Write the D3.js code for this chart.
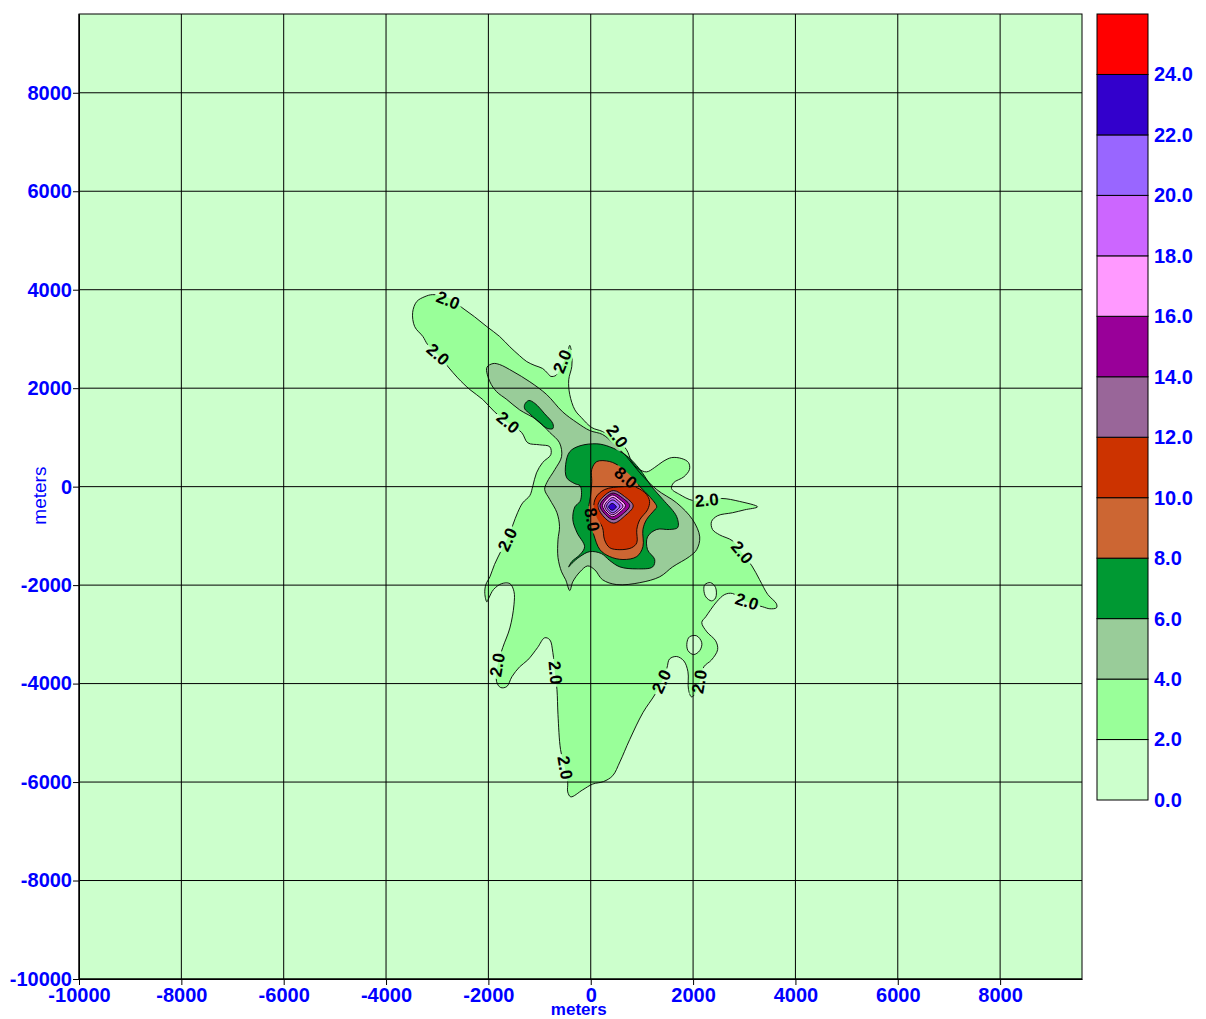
<!DOCTYPE html>
<html>
<head>
<meta charset="utf-8">
<script src="https://cdn.jsdelivr.net/npm/d3@7"></script>
<style>
    body { margin: 0; background: #fff; }
    text { font-family: "Liberation Sans", Arial, sans-serif; }
</style>
</head>
<body>
<svg id="drawing_region_contour"></svg>
<script>
// contour levels (lower bound of each band) and fill colours
const levels = [0, 2, 4, 6, 8, 10, 12, 14, 16, 18, 20, 22, 24];
const levelColors = ['#ccffcc', '#99ff99', '#99cc99', '#009933', '#cc6633', '#cc3300',
    '#996699', '#990099', '#ff99ff', '#cc66ff', '#9966ff', '#3300cc', '#ff0000'];
const levelMax = 26;

const xTicks = [-10000, -8000, -6000, -4000, -2000, 0, 2000, 4000, 6000, 8000];
const yTicks = [-10000, -8000, -6000, -4000, -2000, 0, 2000, 4000, 6000, 8000];
const xDomain = [-10000, 9600];
const yDomain = [-10000, 9600];

// contour polygons, metres [x, y]
const contour2 = [[-3480,3540],[-3400,3760],[-3240,3860],[-3090,3900],[-2790,3840],[-2520,3640],[-2270,3450],
    [-2030,3250],[-1780,3050],[-1580,2840],[-1390,2660],[-1250,2540],[-1090,2460],[-940,2400],[-840,2300],
    [-780,2240],[-680,2260],[-610,2380],[-510,2580],[-450,2740],[-410,2870],[-370,2680],[-370,2440],[-430,2170],
    [-410,1870],[-310,1560],[-180,1400],[20,1200],[230,1120],[510,950],[700,750],[800,510],[920,370],[1090,300],
    [1250,390],[1410,510],[1580,590],[1780,570],[1910,490],[1930,350],[1820,200],[1620,80],[1580,-40],[1740,-160],
    [1990,-280],[2270,-280],[2560,-240],[2910,-300],[3260,-410],[3010,-470],[2770,-530],[2480,-590],[2360,-710],
    [2380,-870],[2520,-980],[2770,-1100],[2950,-1340],[3150,-1610],[3300,-1890],[3460,-2190],[3630,-2380],
    [3630,-2460],[3500,-2480],[3360,-2440],[3050,-2340],[2770,-2170],[2620,-2190],[2460,-2340],[2250,-2640],
    [2170,-2760],[2270,-2950],[2440,-3130],[2480,-3310],[2360,-3520],[2210,-3660],[2130,-3960],[2050,-4190],
    [1970,-4270],[1910,-4120],[1900,-3760],[1820,-3540],[1680,-3450],[1540,-3500],[1490,-3680],[1390,-3960],
    [1250,-4230],[1020,-4590],[760,-5140],[570,-5590],[430,-5870],[250,-5990],[40,-6040],[-160,-6160],
    [-390,-6300],[-450,-6200],[-450,-6010],[-510,-5690],[-590,-5340],[-640,-4630],[-660,-4120],[-700,-3780],
    [-740,-3370],[-800,-3110],[-900,-3070],[-1040,-3270],[-1230,-3520],[-1390,-3660],[-1540,-3860],[-1640,-4060],
    [-1760,-4080],[-1840,-3960],[-1820,-3620],[-1720,-3270],[-1580,-2870],[-1500,-2400],[-1500,-2130],
    [-1580,-1970],[-1740,-1970],[-1900,-2090],[-1990,-2260],[-2030,-2340],[-2070,-2170],[-2050,-1990],
    [-1970,-1830],[-1880,-1580],[-1740,-1280],[-1620,-1040],[-1430,-530],[-1330,-330],[-1190,-180],[-1130,20],
    [-1060,280],[-940,490],[-780,650],[-800,810],[-1000,850],[-1230,890],[-1350,1100],[-1620,1300],[-1880,1520],
    [-2110,1770],[-2360,1970],[-2600,2210],[-2990,2680],[-3190,2890],[-3280,3050],[-3440,3250]];
const hole2a = [[2230,-1990],[2340,-1950],[2440,-2050],[2440,-2260],[2360,-2320],[2250,-2240],[2210,-2090]];
const hole2b = [[1930,-3050],[2070,-3030],[2170,-3170],[2130,-3330],[2010,-3410],[1900,-3330],[1880,-3170]];
const contour4 = [[-2030,2420],[-1910,2500],[-1780,2480],[-1520,2340],[-1190,2130],[-860,1870],[-550,1520],
    [-270,1300],[-20,1140],[230,1060],[430,890],[700,610],[960,280],[1290,-60],[1680,-330],[1990,-670],
    [2130,-1020],[2070,-1280],[1930,-1420],[1600,-1630],[1350,-1830],[960,-1950],[510,-1990],[230,-1890],
    [80,-1690],[-60,-1610],[-210,-1730],[-350,-1930],[-410,-2110],[-490,-1890],[-570,-1730],[-640,-1440],
    [-640,-1080],[-610,-810],[-660,-530],[-800,-260],[-900,-60],[-860,80],[-700,350],[-570,610],[-610,890],
    [-800,1100],[-1060,1360],[-1390,1560],[-1640,1770],[-1840,1930],[-1970,2130]];
const contour6a = [[-1290,1670],[-1210,1750],[-1090,1690],[-900,1480],[-740,1280],[-740,1180],[-840,1180],
    [-1000,1300],[-1190,1480],[-1290,1580]];
const contour6b = [[-210,830],[120,870],[370,810],[700,630],[960,350],[1190,0],[1410,-260],[1680,-610],
    [1700,-830],[1540,-870],[1290,-870],[1110,-1020],[1110,-1280],[1250,-1480],[1210,-1630],[900,-1670],
    [570,-1630],[370,-1500],[210,-1360],[-20,-1320],[-210,-1420],[-370,-1560],[-430,-1630],[-370,-1520],
    [-210,-1380],[-120,-1220],[-270,-930],[-350,-670],[-310,-410],[-210,-300],[-180,-120],[-210,20],[-310,60],
    [-470,180],[-490,450],[-410,710]];
const contour8 = [[20,350],[120,510],[370,510],[570,410],[760,240],[960,0],[1150,-200],[1290,-410],[1250,-470],
    [1090,-670],[1020,-870],[1020,-1220],[900,-1420],[630,-1480],[370,-1420],[180,-1280],[60,-980],[-20,-670],
    [-40,-430],[0,-160],[20,100]];
const contour10 = [[100,-220],[270,-60],[630,0],[900,-20],[1090,-160],[1150,-300],[1110,-470],[960,-670],
    [900,-870],[900,-1140],[800,-1240],[570,-1280],[370,-1240],[270,-1080],[230,-830],[120,-630],[60,-430]];
const contour12 = [[140,-385],[280,-170],[450,-80],[660,-200],[830,-390],[660,-600],[450,-740],[280,-640]];
const contour14 = [[180,-385],[300,-210],[440,-130],[620,-230],[760,-385],[620,-560],[440,-670],[300,-580]];
const contour16 = [[230,-385],[320,-240],[430,-170],[570,-260],[680,-385],[570,-520],[430,-610],[320,-540]];
const contour18 = [[270,-395],[340,-280],[430,-220],[540,-290],[630,-395],[540,-500],[430,-570],[340,-520]];
const contour20 = [[310,-395],[360,-310],[430,-270],[510,-320],[570,-395],[510,-480],[430,-530],[360,-490]];
const contour22 = [[350,-410],[380,-360],[420,-340],[460,-360],[500,-410],[460,-460],[420,-480],[380,-460]];

// in-line contour labels: x, y (metres), angle, text
const contourLabels = [
    [-2790, 3780, 22, '2.0'], [-2990, 2680, 42, '2.0'], [-550, 2540, -68, '2.0'], [-1620, 1300, 40, '2.0'],
    [510, 1020, 55, '2.0'], [2270, -280, -5, '2.0'], [2950, -1340, 50, '2.0'], [3050, -2340, 18, '2.0'],
    [-1620, -1080, -65, '2.0'], [-1820, -3620, -80, '2.0'], [-700, -3780, 85, '2.0'], [-510, -5710, 80, '2.0'],
    [1390, -3960, -65, '2.0'], [2130, -3960, -80, '2.0'], [680, 180, 40, '8.0'], [20, -670, 80, '8.0']
];

class contourChart {
    constructor(config, data) {
        this.config = {
            parent: config.parent,
            width: config.width || 256,
            height: config.height || 256,
            margin: config.margin || { top: 10, right: 10, bottom: 10, left: 10 },
            legend: config.legend
        };
        this.data = data;
        this.init();
    }

    init() {
        let self = this;

        self.svg = d3.select(self.config.parent)
            .attr('width', self.config.width)
            .attr('height', self.config.height);
        self.inner_width = self.config.width - self.config.margin.left - self.config.margin.right;
        self.inner_height = self.config.height - self.config.margin.top - self.config.margin.bottom;
        self.chart = self.svg.append('g')
            .attr('transform', `translate(${self.config.margin.left}, ${self.config.margin.top})`);

        self.xscale = d3.scaleLinear().domain(xDomain).range([0, self.inner_width]);
        self.yscale = d3.scaleLinear().domain(yDomain).range([self.inner_height, 0]);
        self.colorScale = d3.scaleOrdinal().domain(levels).range(levelColors);

        // plain integers, ascii minus, no thousands separator
        self.xaxis = d3.axisBottom(self.xscale).tickValues(xTicks).tickSize(6).tickSizeOuter(0).tickPadding(3)
            .tickFormat(d => String(d));
        self.yaxis = d3.axisLeft(self.yscale).tickValues(yTicks).tickSize(6).tickSizeOuter(0).tickPadding(1)
            .tickFormat(d => String(d));
    }

    render() {
        let self = this;
        const w = self.inner_width, h = self.inner_height;

        var outline = d3.line()
            .x(d => self.xscale(d[0]))
            .y(d => self.yscale(d[1]))
            .curve(d3.curveCatmullRomClosed.alpha(0.5));

        // mask to cut the contour lines where the labels sit
        const mask = self.svg.append('defs').append('mask')
            .attr('id', 'labelMask')
            .attr('maskUnits', 'userSpaceOnUse')
            .attr('x', 0).attr('y', 0).attr('width', w).attr('height', h);
        mask.append('rect').attr('width', w).attr('height', h).attr('fill', 'white');
        mask.selectAll('.hole')
            .data(contourLabels)
            .join('rect')
            .attr('x', -14).attr('y', -8).attr('width', 28).attr('height', 16)
            .attr('fill', 'black')
            .attr('transform', d => `translate(${self.xscale(d[0])},${self.yscale(d[1])}) rotate(${d[2]})`);

        self.chart.append('rect')
            .attr('width', w).attr('height', h)
            .attr('fill', self.colorScale(0));

        self.chart.append('g')
            .selectAll('path')
            .data(self.data)
            .join('path')
            .attr('d', d => outline(d.points))
            .attr('fill', d => self.colorScale(d.level));

        self.chart.append('g')
            .attr('mask', 'url(#labelMask)')
            .selectAll('path')
            .data(self.data)
            .join('path')
            .attr('d', d => outline(d.points))
            .attr('fill', 'none')
            .attr('stroke', '#000')
            .attr('stroke-width', 0.9);

        // grid
        self.chart.append('g').selectAll('line')
            .data(xTicks).join('line')
            .attr('x1', d => self.xscale(d)).attr('x2', d => self.xscale(d))
            .attr('y1', 0).attr('y2', h)
            .attr('stroke', '#000').attr('stroke-width', 1);
        self.chart.append('g').selectAll('line')
            .data(yTicks).join('line')
            .attr('y1', d => self.yscale(d)).attr('y2', d => self.yscale(d))
            .attr('x1', 0).attr('x2', w)
            .attr('stroke', '#000').attr('stroke-width', 1);
        self.chart.append('rect')
            .attr('width', w).attr('height', h)
            .attr('fill', 'none').attr('stroke', '#000').attr('stroke-width', 1);

        self.chart.append('g').selectAll('text')
            .data(contourLabels).join('text')
            .attr('transform', d => `translate(${self.xscale(d[0])},${self.yscale(d[1])}) rotate(${d[2]})`)
            .attr('text-anchor', 'middle')
            .attr('dominant-baseline', 'central')
            .attr('font-size', '17px')
            .attr('font-weight', 'bold')
            .attr('fill', '#000')
            .text(d => d[3]);

        // axes
        const xg = self.chart.append('g').attr('transform', `translate(0, ${h})`).call(self.xaxis);
        const yg = self.chart.append('g').call(self.yaxis);
        [xg, yg].forEach(g => {
            g.select('.domain').attr('stroke', '#000');
            g.selectAll('.tick line').attr('stroke', '#000');
            g.selectAll('.tick text')
                .attr('fill', '#0000ff')
                .attr('font-size', '20px')
                .attr('font-weight', 'bold')
                .attr('font-family', '"Liberation Sans", Arial, sans-serif');
        });
        yg.selectAll('.tick text').attr('dy', '0.32em');

        self.svg.append('text')
            .attr('x', self.config.margin.left + self.xscale(0) - 12)
            .attr('y', 1015)
            .attr('text-anchor', 'middle')
            .attr('font-size', '17px')
            .attr('font-weight', 'bold')
            .attr('fill', '#0000ff')
            .text('meters');
        self.svg.append('text')
            .attr('transform', `translate(46, ${self.config.margin.top + self.yscale(0) + 9}) rotate(-90)`)
            .attr('text-anchor', 'middle')
            .attr('font-size', '19px')
            .attr('fill', '#0000ff')
            .text('meters');

        self.renderLegend();
    }

    renderLegend() {
        let self = this;
        const lg = self.config.legend;
        const cscale = d3.scaleLinear().domain([0, levelMax]).range([lg.height, 0]);
        const g = self.svg.append('g').attr('transform', `translate(${lg.x}, ${lg.y})`);

        g.selectAll('rect')
            .data(levels).join('rect')
            .attr('x', 0)
            .attr('y', d => cscale(d + 2))
            .attr('width', lg.width)
            .attr('height', d => cscale(d) - cscale(d + 2))
            .attr('fill', d => self.colorScale(d))
            .attr('stroke', '#000')
            .attr('stroke-width', 1);

        const axis = d3.axisRight(cscale).tickValues(levels).tickSize(0).tickPadding(6)
            .tickFormat(d3.format('.1f'));
        const ag = g.append('g').attr('transform', `translate(${lg.width}, 0)`).call(axis);
        ag.select('.domain').remove();
        ag.selectAll('.tick text')
            .attr('fill', '#0000ff')
            .attr('font-size', '20px')
            .attr('font-weight', 'bold')
            .attr('font-family', '"Liberation Sans", Arial, sans-serif');
    }
}

const regions = [
    { level: 2, points: contour2 },
    { level: 0, points: hole2a },
    { level: 0, points: hole2b },
    { level: 4, points: contour4 },
    { level: 6, points: contour6a },
    { level: 6, points: contour6b },
    { level: 8, points: contour8 },
    { level: 10, points: contour10 },
    { level: 12, points: contour12 },
    { level: 14, points: contour14 },
    { level: 16, points: contour16 },
    { level: 18, points: contour18 },
    { level: 20, points: contour20 },
    { level: 22, points: contour22 }
];

var config = {
    parent: '#drawing_region_contour',
    width: 1206,
    height: 1019,
    margin: { top: 14, right: 124, bottom: 40, left: 79 },
    legend: { x: 1097, y: 14, width: 51, height: 786 }
};
const contour_chart = new contourChart(config, regions);
contour_chart.render();
</script>
</body>
</html>
